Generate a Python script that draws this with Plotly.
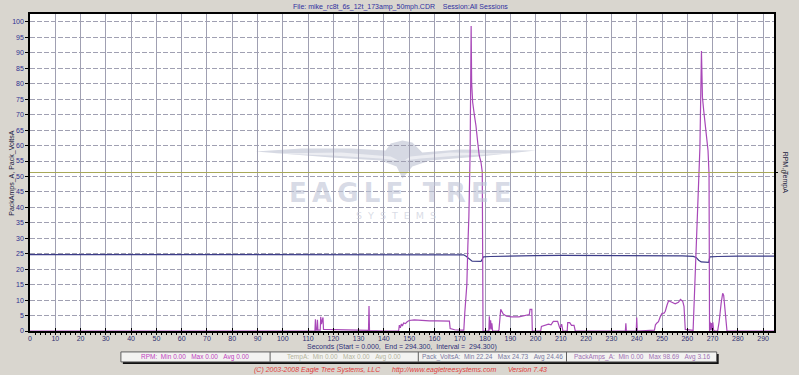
import plotly.graph_objects as go

# ---------------- data ----------------
amps_t = [0, 112.7, 112.9, 113.1, 113.5, 113.7, 113.9, 114.8, 115.0, 115.3, 115.6, 115.9, 116.1,
          120, 125, 130, 133.9, 134.1, 134.3, 140, 145.8,
          146.1, 146.5, 146.9, 147.3, 147.8, 148.5, 149.2, 150.0, 152, 155, 158, 161, 164, 165.9, 166.2,
          168, 171.0, 171.6, 172.0, 172.4, 172.8, 173.2, 173.6, 174.1, 174.5,
          174.7, 175.1, 175.8, 176.4, 177.1, 177.7, 178.4, 178.9, 179.2,
          180.0, 181.5, 181.7, 181.9, 182.2, 182.5, 182.7, 183.0, 185.2,
          185.5, 186.2, 187.2, 188.5, 190.5, 193.4, 195.5, 197.5, 197.8, 198.5, 198.7,
          202.0, 202.3, 203.8, 205.1, 206.1, 207.0, 208.7, 209.3, 209.6, 210.3, 210.8,
          212.5, 212.7, 213.5, 214.2, 215.2, 215.7,
          235.5, 235.7, 235.9, 239.8, 240.0, 240.2,
          247.0, 247.4, 248.0, 248.6, 249.3, 250.0, 250.8, 251.3, 252.0, 252.6, 253.9, 255.2, 256.5,
          257.3, 258.2, 258.7, 259.2, 262.3,
          263.0, 263.7, 263.9, 264.7, 265.0, 265.6,
          265.9, 266.0, 266.5, 267.6, 268.2, 268.6, 268.8,
          269.0, 269.2, 269.5, 269.8, 270.1, 270.4, 270.8, 272.0,
          272.6, 273.4, 274.0, 274.4, 274.8, 275.2, 275.7, 294.3]
amps_v = [0, 0, 3.8, 0.3, 0.3, 3.6, 0.3, 0.3, 4.6, 2.2, 3.4, 4.4, 0.5,
          0.4, 0.4, 0.3, 0.2, 8.1, 0.1, 0.0, 0.0,
          1.9, 1.0, 2.3, 1.6, 2.6, 2.4, 3.0, 3.4, 3.6, 3.4, 3.3, 3.3, 3.2, 3.2, 0.8,
          0.4, 0.3, 0.3, 6.0, 12.2, 15.0, 27.7, 37.0, 58.0, 98.7,
          80.4, 74.0, 69.7, 66.5, 61.0, 56.8, 54.6, 51.4, 0.0,
          0.0, 0.0, 4.8, 0.5, 3.5, 0.5, 2.5, 0.0, 0.0,
          0.3, 7.0, 5.5, 4.8, 4.6, 4.6, 5.0, 5.3, 7.0, 7.0, 0.0,
          0.0, 1.5, 1.8, 2.2, 2.0, 3.1, 3.1, 1.8, 0.8, 2.2, 0.0,
          0.0, 2.7, 2.7, 1.8, 1.8, 0.0,
          0.0, 2.5, 0.0, 0.0, 4.4, 0.0,
          0.3, 2.0, 2.6, 3.0, 4.6, 5.7, 5.8, 6.4, 8.4, 9.8, 9.3, 8.8, 9.3,
          10.2, 9.6, 8.0, 0.5, 0.2,
          15.4, 31.6, 36.9, 48.7, 59.5, 90.6,
          83.1, 75.6, 71.3, 63.8, 58.4, 50.9, 0.0,
          3.0, 0.3, 2.6, 0.3, 2.8, 0.3, 0.0, 0.0,
          3.0, 9.0, 12.2, 11.5, 8.0, 3.0, 0.0, 0.0]

volts_t = [0, 100, 150, 171.5, 172.5, 173.5, 174.9, 178.4, 179.0, 179.4, 182, 190, 200, 210,
           220, 240, 250, 251.9, 258, 262.4, 263.5, 264.5, 265.5, 268.5, 268.9, 272, 280, 294.3]
volts_v = [24.73, 24.73, 24.7, 24.65, 24.2, 23.6, 22.6, 22.5, 23.2, 24.0, 24.1, 24.3, 24.4, 24.45,
           24.45, 24.45, 24.45, 24.25, 24.3, 24.15, 23.8, 22.9, 22.35, 22.24, 24.0, 24.1, 24.25, 24.25]

rpm_t = [0, 294.3]
rpm_v = [0, 0]
temp_t = [0, 294.3]
temp_v = [0, 0]

x_ticks = list(range(0, 300, 10))
y_ticks = list(range(0, 105, 5))

legend_labels = [
    "RPM:  Min 0.00   Max 0.00   Avg 0.00",
    "TempA:  Min 0.00   Max 0.00   Avg 0.00",
    "Pack_VoltsA:  Min 22.24   Max 24.73   Avg 24.46",
    "PackAmps_A:  Min 0.00   Max 98.69   Avg 3.16",
]
legend_colors = ["#c040c0", "#b4b49c", "#7878a0", "#a070b4"]

title_text = "File: mike_rc8t_6s_12t_173amp_50mph.CDR    Session:All Sessions"
xlabel_text = "Seconds (Start = 0.000,  End = 294.300,  Interval =  294.300)"
footer_text = "(C) 2003-2008 Eagle Tree Systems, LLC      http://www.eagletreesystems.com      Version 7.43"

# ---------------- layout helpers ----------------
W, H = 799, 375
L, R, T, B = 25, 21, 13, 44
PW, PH = W - L - R, H - T - B


def fx(px):
    return (px - L) / PW


def fy(py):
    return (H - B - py) / PH


def nb(s):
    return s.replace(" ", "\u00a0")


def path(points):
    d = "M " + " L ".join(f"{fx(px):.5f},{fy(py):.5f}" for px, py in points) + " Z"
    return d


FONT = "Liberation Sans"

fig = go.Figure()
fig.add_trace(go.Scatter(x=rpm_t, y=rpm_v, mode="lines", yaxis="y2",
                         line=dict(color="#c040c0", width=1), name="RPM"))
fig.add_trace(go.Scatter(x=temp_t, y=temp_v, mode="lines", yaxis="y2",
                         line=dict(color="#a8a858", width=1.2), name="TempA"))
fig.add_trace(go.Scatter(x=volts_t, y=volts_v, mode="lines",
                         line=dict(color="#3c3c88", width=1.2), name="Pack_VoltsA"))
fig.add_trace(go.Scatter(x=amps_t, y=amps_v, mode="lines",
                         line=dict(color="#a848b8", width=1.2), name="PackAmps_A"))

shapes = []
# watermark eagle (below grid)
eagle = [(253, 151), (300, 148), (350, 148), (385, 150), (390, 143), (402, 140), (412, 142), (418, 148),
         (422, 152), (460, 149), (537, 150), (480, 156), (430, 160), (412, 166), (402, 178), (396, 166),
         (380, 160), (330, 157)]
shapes.append(dict(type="path", xref="paper", yref="paper", path=path(eagle),
                   fillcolor="#d6d9e3", line=dict(width=0), layer="below"))
shapes.append(dict(type="path", xref="paper", yref="paper",
                   path=path([(270, 153), (340, 152), (390, 156), (398, 160), (380, 158), (330, 155)]),
                   fillcolor="#ecedf2", line=dict(width=0), layer="below"))
shapes.append(dict(type="path", xref="paper", yref="paper",
                   path=path([(520, 153), (450, 152), (410, 156), (404, 160), (420, 158), (460, 155)]),
                   fillcolor="#ecedf2", line=dict(width=0), layer="below"))

# legend box shadow + box
shapes.append(dict(type="rect", xref="paper", yref="paper", x0=fx(119), x1=fx(722), y0=fy(364), y1=fy(354),
                   fillcolor="#101010", line=dict(width=0), layer="above"))
shapes.append(dict(type="rect", xref="paper", yref="paper", x0=fx(117), x1=fx(720), y0=fy(362), y1=fy(352),
                   fillcolor="#f3f3f1", line=dict(color="#606060", width=1), layer="above"))
for sx in [268, 418, 568]:
    shapes.append(dict(type="line", xref="paper", yref="paper", x0=fx(sx), x1=fx(sx), y0=fy(362), y1=fy(352),
                       line=dict(color="#606060", width=1), layer="above"))

annotations = []
cells = [(117, 268), (268, 418), (418, 568), (568, 720)]
for (a, b), txt, col in zip(cells, legend_labels, legend_colors):
    annotations.append(dict(xref="paper", yref="paper", x=fx((a + b) / 2), y=fy(357), text=nb(txt),
                            showarrow=False, font=dict(family=FONT, size=6.5, color=col),
                            xanchor="center", yanchor="middle"))
annotations.append(dict(xref="paper", yref="paper", x=fx(400), y=fy(5.5), text=nb(title_text), showarrow=False,
                        font=dict(family=FONT, size=7, color="#3030a0"), xanchor="center", yanchor="middle"))
annotations.append(dict(xref="paper", yref="paper", x=fx(401), y=fy(347), text=nb(xlabel_text), showarrow=False,
                        font=dict(family=FONT, size=7, color="#303078"), xanchor="center", yanchor="middle"))
annotations.append(dict(xref="paper", yref="paper", x=fx(400), y=fy(370), text=nb(footer_text), showarrow=False,
                        font=dict(family=FONT, size=7, color="#e03c3c", style="italic"),
                        xanchor="center", yanchor="middle"))
annotations.append(dict(xref="paper", yref="paper", x=fx(6), y=fy(172), text=nb("PackAmps_A, Pack_VoltsA"),
                        showarrow=False, textangle=-90,
                        font=dict(family=FONT, size=7, color="#202040"), xanchor="center", yanchor="middle"))
annotations.append(dict(xref="paper", yref="paper", x=fx(790), y=fy(172), text=nb("RPM, TempA"),
                        showarrow=False, textangle=90,
                        font=dict(family=FONT, size=7, color="#202040"), xanchor="center", yanchor="middle"))
# watermark text (semi-transparent so grid shows through)
annotations.append(dict(xref="paper", yref="paper", x=fx(400), y=fy(193), text="\u2009".join("EAGLE TREE"),
                        showarrow=False,
                        font=dict(family="DejaVu Sans", size=26, color="rgba(190,196,214,0.62)", weight="bold"),
                        xanchor="center", yanchor="middle"))
annotations.append(dict(xref="paper", yref="paper", x=fx(395), y=fy(215.5), text=nb("S  Y  S  T  E  M  S"),
                        showarrow=False, font=dict(family="DejaVu Sans", size=9.5, color="rgba(200,204,218,0.7)"),
                        xanchor="center", yanchor="middle"))

fig.update_layout(
    width=W, height=H,
    margin=dict(l=L, r=R, t=T, b=B, pad=0),
    paper_bgcolor="#d9d6cf",
    plot_bgcolor="#ffffff",
    showlegend=False,
    shapes=shapes,
    annotations=annotations,
    xaxis=dict(range=[0, 294.3], tickvals=x_ticks, showgrid=True, gridcolor="#a0a0b2", gridwidth=1,
               zeroline=False, showline=True, linecolor="#000000", linewidth=1.5, mirror=True,
               ticks="inside", ticklen=3, tickcolor="#000000",
               minor=dict(dtick=2, ticks="outside", ticklen=2, tickcolor="#000000", showgrid=False),
               tickfont=dict(family=FONT, size=7, color="#303070")),
    yaxis=dict(range=[0, 102.58], tickvals=y_ticks, showgrid=True, gridcolor="#a0a0b2", gridwidth=1,
               griddash="5px,2px",
               zeroline=False, showline=True, linecolor="#000000", linewidth=1.5, mirror=True,
               ticks="outside", ticklen=3, tickcolor="#000000",
               tickfont=dict(family=FONT, size=7, color="#303090")),
    yaxis2=dict(range=[-1, 1], overlaying="y", side="right", tickvals=[0], ticktext=["0"], tickangle=90,
                showgrid=False, zeroline=False, ticks="outside", ticklen=3, tickcolor="#000000",
                tickfont=dict(family=FONT, size=7, color="#303030")),
)

fig.write_html("out.html")
